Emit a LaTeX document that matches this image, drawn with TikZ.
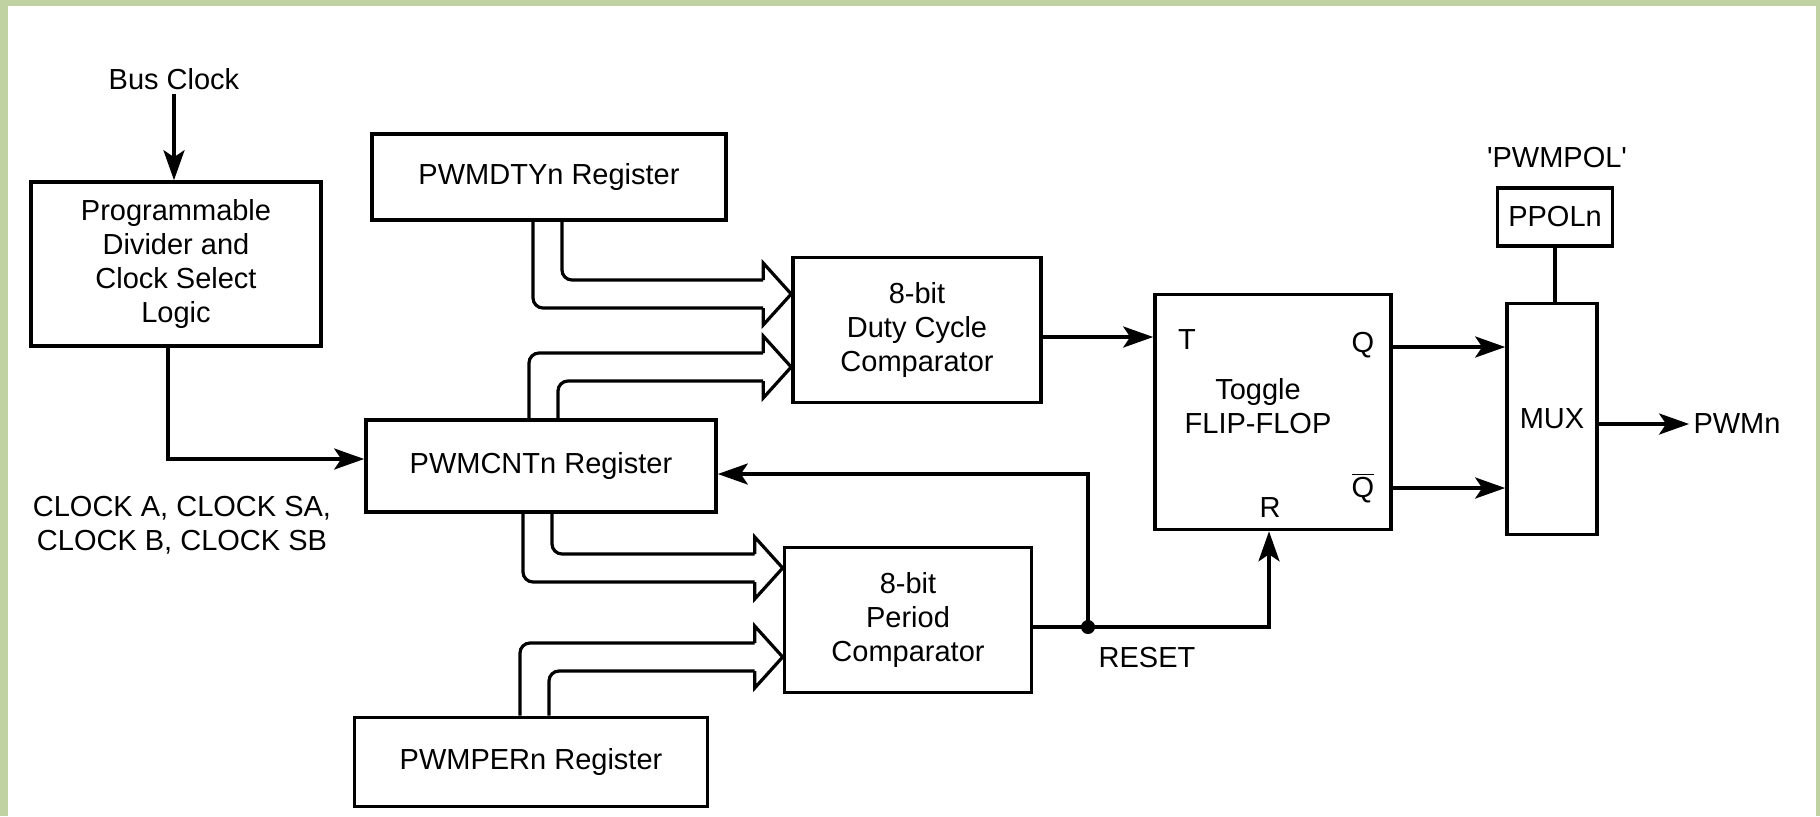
\documentclass[tikz,border=0pt]{standalone}
\usepackage{fontspec}
\setmainfont{Liberation Sans}
\usetikzlibrary{positioning,calc,arrows.meta}

\definecolor{framegreen}{RGB}{192,210,162}

\tikzset{
    blk/.style={draw, line width=1.8pt, align=center, inner sep=2pt},
    sig/.style={line width=1.8pt, -{Stealth[length=15pt,width=10.5pt,inset=3.5pt]}},
    wire/.style={line width=1.8pt},
    bus/.style={line width=1.6pt, line join=miter},
    lbl/.style={align=center, inner sep=2pt}
}

% wide bus arrow: #1 source anchor, #2 outer x, #3 centre y, #4 target, #5 1 = from above, -1 = from below
\newcommand{\busarrow}[5]{%
    \pgfmathsetmacro{\ya}{#3+14*#5}%
    \pgfmathsetmacro{\yb}{#3-14*#5}%
    \pgfmathsetmacro{\xb}{#2+29}%
    \pgfmathsetmacro{\ha}{#3+31*#5}%
    \pgfmathsetmacro{\hb}{#3-31*#5}%
    \draw[bus, rounded corners=5pt] (#2,0 |- #1) -- (#2,\ya) -- ($(#4.west |- 0,\ya)+(-28,0)$);
    \draw[bus] ($(#4.west |- 0,\ya)+(-28,0)$) -- ($(#4.west |- 0,\ha)+(-28,0)$) -- (#4.west |- 0,#3)
        -- ($(#4.west |- 0,\hb)+(-28,0)$) -- ($(#4.west |- 0,\yb)+(-28,0)$);
    \draw[bus, rounded corners=5pt] ($(#4.west |- 0,\yb)+(-28,0)$) -- (\xb,\yb) -- (\xb,0 |- #1);
}

\begin{document}
\begin{tikzpicture}[x=0.5pt, y=-0.5pt, font=\fontsize{14.5}{17}\selectfont]
    \useasboundingbox (0,0) rectangle (1820,816);
    \fill[white] (0,0) rectangle (1820,816);
    \fill[framegreen] (0,0) rectangle (8,816);
    \fill[framegreen] (0,0) rectangle (1820,6);
    \fill[framegreen] (1816,0) rectangle (1820,816);

    \node[blk, minimum width=145pt, minimum height=82pt] (divider) at (176,264) {Programmable\\Divider and\\Clock Select\\Logic};
    \node[blk, minimum width=177pt, minimum height=43pt] (dtyreg) at (549,177) {PWMDTYn Register};
    \node[blk, minimum width=124pt, minimum height=72.5pt] (dutycmp) at (917,330) {8-bit\\Duty Cycle\\Comparator};
    \node[blk, minimum width=175pt, minimum height=46pt] (cntreg) at (541,466) {PWMCNTn Register};
    \node[blk, minimum width=123.5pt, minimum height=72.5pt] (percmp) at (908,620) {8-bit\\Period\\Comparator};
    \node[blk, minimum width=176.5pt, minimum height=44.5pt] (perreg) at (531,762) {PWMPERn Register};
    \node[blk, minimum width=118pt, minimum height=117.5pt] (flipflop) at (1273,412) {};
    \node[blk, minimum width=45pt, minimum height=115.5pt] (mux) at (1552,419) {MUX};
    \node[blk, minimum width=57.5pt, minimum height=29pt] (ppol) at (1555,217) {PPOLn};

    \node[lbl] (ffname) at (1258,406) {Toggle\\FLIP-FLOP};
    \node[lbl] (tin) at (1187,340) {T};
    \node[lbl] (qout) at (1363,345) {Q};
    \node[lbl] (qbarout) at (1363,488) {$\overline{\hbox{Q}}$};
    \node[lbl] (rin) at (1270,508) {R};

    \node[lbl] (busclk) at (174,79) {Bus Clock};
    \node[lbl] (clocks) at (182,525) {CLOCK A, CLOCK SA,\\CLOCK B, CLOCK SB};
    \node[lbl] (polreg) at (1557,158) {\textquotesingle PWMPOL\textquotesingle};
    \node[lbl] (pwmout) at (1737,424) {PWMn};
    \node[lbl] (reset) at (1147,658) {RESET};
    \coordinate (rst) at (1088,627);

    \draw[sig] (busclk.south) -- (busclk.south |- divider.north);
    \draw[sig] (168,0 |- divider.south) |- ($(cntreg.west)+(0,-7)$);

    \busarrow{dtyreg.south}{533}{294}{dutycmp}{1}
    \busarrow{cntreg.north}{529}{367}{dutycmp}{-1}
    \busarrow{cntreg.south}{523}{568}{percmp}{1}
    \busarrow{perreg.north}{520}{657}{percmp}{-1}

    \draw[sig] (dutycmp.east |- 0,337) -- (flipflop.west |- 0,337);
    \draw[sig] (flipflop.east |- 0,347) -- (mux.west |- 0,347);
    \draw[sig] (flipflop.east |- 0,488) -- (mux.west |- 0,488);
    \draw[sig] (mux.east |- pwmout.west) -- (pwmout.west);
    \draw[wire] (ppol.south) -- (ppol.south |- mux.north);

    \draw[sig] (percmp.east |- rst) -| (1269,0 |- flipflop.south);
    \draw[sig] (rst) |- (cntreg.east |- 0,474);
    \fill (rst) circle (3.5pt);
\end{tikzpicture}
\end{document}
